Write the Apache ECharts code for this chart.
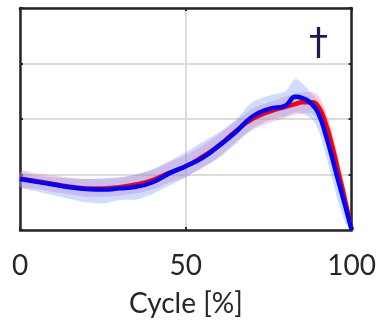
<!DOCTYPE html>
<html>
<head>
<meta charset="utf-8">
<script src="https://cdn.jsdelivr.net/npm/echarts@6/dist/echarts.min.js"></script>
<style>
  html, body { margin: 0; padding: 0; background: #fff; }
  #chart { width: 379px; height: 324px; }
</style>
</head>
<body>
<div id="chart"></div>
<script>
// cycle positions [%]
let cycle = [0, 5, 10, 15, 20, 25, 30, 35, 40, 45, 50, 55, 60, 65, 70, 75, 80, 83, 85, 88, 90, 92, 94, 96, 98, 100];

// blue mean and band
let blueMean = [0.92, 0.87, 0.82, 0.77, 0.74, 0.73, 0.75, 0.78, 0.86, 1.02, 1.15, 1.30, 1.52, 1.76, 2.04, 2.18, 2.24, 2.40, 2.38, 2.27, 2.10, 1.75, 1.33, 0.88, 0.45, 0.0];
let blueLow = [0.78, 0.70, 0.63, 0.56, 0.50, 0.48, 0.54, 0.55, 0.65, 0.80, 0.95, 1.12, 1.30, 1.55, 1.82, 1.98, 2.05, 2.12, 2.10, 2.00, 1.80, 1.40, 0.95, 0.50, 0.15, 0.0];
let blueHigh = [1.02, 0.98, 0.95, 0.93, 0.92, 0.93, 0.95, 1.00, 1.10, 1.24, 1.40, 1.58, 1.76, 1.98, 2.30, 2.42, 2.50, 2.72, 2.65, 2.45, 2.30, 2.00, 1.65, 1.20, 0.70, 0.05];

// red mean and band
let redMean = [0.93, 0.88, 0.83, 0.78, 0.75, 0.75, 0.77, 0.82, 0.90, 1.03, 1.15, 1.32, 1.52, 1.78, 2.00, 2.13, 2.22, 2.27, 2.30, 2.30, 2.22, 1.95, 1.55, 1.05, 0.55, 0.0];
let redLow = [0.78, 0.74, 0.69, 0.64, 0.60, 0.60, 0.62, 0.66, 0.73, 0.85, 0.96, 1.12, 1.32, 1.58, 1.80, 1.93, 2.02, 2.08, 2.10, 2.10, 2.00, 1.70, 1.30, 0.80, 0.35, 0.0];
let redHigh = [1.06, 1.02, 0.98, 0.94, 0.92, 0.92, 0.94, 1.00, 1.08, 1.22, 1.35, 1.52, 1.72, 1.96, 2.18, 2.30, 2.40, 2.45, 2.48, 2.48, 2.42, 2.18, 1.80, 1.30, 0.75, 0.05];

let xTicks = [0, 50, 100];

function pairs(vals) {
  return cycle.map(function (c, i) { return [c, vals[i]]; });
}

// band drawn as one polygon through the axis coordinates
function bandSeries(low, high, color) {
  return {
    type: "custom",
    silent: true,
    data: cycle.map(function (c, i) { return [c, low[i], high[i]]; }),
    encode: { x: 0, y: [1, 2] },
    renderItem: function (params, api) {
      if (params.dataIndex !== 0) return;
      let pts = [];
      for (let i = 0; i < cycle.length; i++) pts.push(api.coord([cycle[i], high[i]]));
      for (let i = cycle.length - 1; i >= 0; i--) pts.push(api.coord([cycle[i], low[i]]));
      return {
        type: "polygon",
        shape: { points: pts, smooth: 0.25 },
        style: { fill: color, stroke: "none" },
      };
    },
  };
}

let chart = echarts.init(document.getElementById("chart"));
let axisColor = "#262626";
let gridColor = "#dcdcdc";
let tick = { show: true, inside: true, length: 3, lineStyle: { color: axisColor, width: 2 } };
let frame = { show: true, onZero: false, lineStyle: { color: axisColor, width: 2.5 } };

let option = {
  animation: false,
  grid: {
    left: 20,
    right: 26,
    top: 8,
    bottom: 94,
  },
  xAxis: [
    {
      type: "value",
      min: 0,
      max: 100,
      interval: 50,
      name: "Cycle [%]",
      nameLocation: "middle",
      nameGap: 60,
      nameTextStyle: { color: axisColor, fontSize: 28, fontFamily: "Lato" },
      axisLine: frame,
      axisTick: tick,
      axisLabel: {
        color: axisColor,
        fontSize: 28,
        fontFamily: "Lato",
        margin: 22,
        formatter: function (v) { return xTicks.indexOf(v) >= 0 ? String(v) : ""; },
      },
      splitLine: { show: true, lineStyle: { color: gridColor, width: 2 } },
    },
    {
      type: "value",
      position: "top",
      min: 0,
      max: 100,
      interval: 50,
      axisLine: frame,
      axisTick: tick,
      axisLabel: { show: false },
      splitLine: { show: false },
    },
  ],
  yAxis: [
    {
      type: "value",
      min: 0,
      max: 4,
      interval: 1,
      axisLine: frame,
      axisTick: tick,
      axisLabel: { show: false },
      splitLine: { show: true, lineStyle: { color: gridColor, width: 2 } },
    },
    {
      type: "value",
      position: "right",
      min: 0,
      max: 4,
      interval: 1,
      axisLine: frame,
      axisTick: tick,
      axisLabel: { show: false },
      splitLine: { show: false },
    },
  ],
  graphic: [
    {
      type: "text",
      left: 309,
      top: 25,
      style: { text: "†", fontSize: 38, fontFamily: "DejaVu Sans", fill: "#1c1b4d" },
    },
  ],
  series: [
    bandSeries(redLow, redHigh, "rgba(235, 115, 145, 0.33)"),
    bandSeries(blueLow, blueHigh, "rgba(115, 155, 255, 0.35)"),
    {
      name: "red",
      type: "line",
      data: pairs(redMean),
      smooth: true,
      symbol: "none",
      lineStyle: { color: "#ff0000", width: 4.5 },
    },
    {
      name: "blue",
      type: "line",
      data: pairs(blueMean),
      smooth: true,
      symbol: "none",
      lineStyle: { color: "#0000ff", width: 4.5 },
    },
  ],
};

option && chart.setOption(option);
</script>
</body>
</html>
